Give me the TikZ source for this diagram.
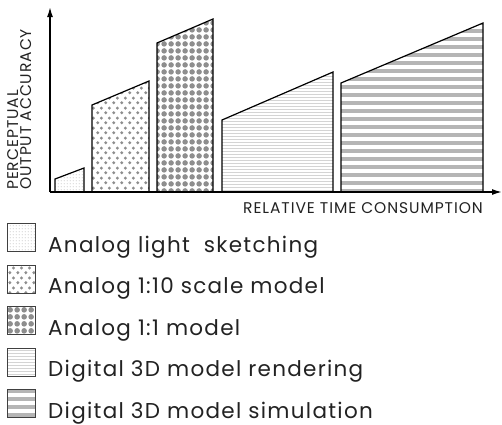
\documentclass[tikz,border=0pt]{standalone}
\usepackage{fontspec}
\setmainfont{Poppins}
\newfontfamily\widefont{Poppins}[LetterSpace=6]
\usepackage{tikz}
\usetikzlibrary{positioning}
\usetikzlibrary{patterns}
\usetikzlibrary{arrows.meta}

% fill patterns for the five methods
\pgfdeclarepatternformonly{finedots}{\pgfqpoint{0pt}{0pt}}{\pgfqpoint{3pt}{3pt}}{\pgfqpoint{3pt}{3pt}}{
    \pgfpathcircle{\pgfqpoint{1.5pt}{1.5pt}}{0.6pt}
    \pgfusepath{fill}
}
\pgfdeclarepatternformonly{smalldots}{\pgfqpoint{0pt}{0pt}}{\pgfqpoint{8pt}{10pt}}{\pgfqpoint{8pt}{10pt}}{
    \pgfpathcircle{\pgfqpoint{2pt}{2.5pt}}{1.8pt}
    \pgfpathcircle{\pgfqpoint{6pt}{7.5pt}}{1.8pt}
    \pgfusepath{fill}
}
\pgfdeclarepatternformonly{bigdots}{\pgfqpoint{0pt}{0pt}}{\pgfqpoint{7pt}{7pt}}{\pgfqpoint{7pt}{7pt}}{
    \pgfpathcircle{\pgfqpoint{3.5pt}{3.5pt}}{3.1pt}
    \pgfusepath{fill}
}
\pgfdeclarepatternformonly{thinlines}{\pgfqpoint{0pt}{0pt}}{\pgfqpoint{1pt}{3.3pt}}{\pgfqpoint{1pt}{3.3pt}}{
    \pgfpathrectangle{\pgfqpoint{0pt}{0pt}}{\pgfqpoint{1pt}{0.8pt}}
    \pgfusepath{fill}
}
\pgfdeclarepatternformonly{thickstripes}{\pgfqpoint{0pt}{0pt}}{\pgfqpoint{1pt}{8pt}}{\pgfqpoint{1pt}{8pt}}{
    \pgfpathrectangle{\pgfqpoint{0pt}{0pt}}{\pgfqpoint{1pt}{4.2pt}}
    \pgfusepath{fill}
}

\definecolor{dotgray}{HTML}{8E8E8E}
\definecolor{textgray}{HTML}{222222}

\tikzstyle{axis_line} = [line width = 1.5pt, -{Latex[length = 10pt, width = 6pt]}]
\tikzstyle{bar_shape} = [draw, line width = 1.2pt, line join = miter]
\tikzstyle{sketch_fill} = [pattern = finedots, pattern color = gray!70]
\tikzstyle{scale_fill} = [pattern = smalldots, pattern color = dotgray]
\tikzstyle{full_fill} = [pattern = bigdots, pattern color = dotgray]
\tikzstyle{render_fill} = [pattern = thinlines, pattern color = gray!80]
\tikzstyle{sim_fill} = [pattern = thickstripes, pattern color = dotgray]
\tikzstyle{legend_box} = [draw = black!75, line width = 1.4pt, minimum size = 28pt, inner sep = 0, anchor = north west]
\tikzstyle{legend_text} = [anchor = base west, inner sep = 0, text = textgray, font = \widefont\fontsize{21.5}{24}\selectfont]
\tikzstyle{axis_text} = [inner sep = 0, text = textgray, font = \widefont\fontsize{15.5}{13}\selectfont]

\begin{document}
\begin{tikzpicture}[x = 1pt, y = -1pt]
    \useasboundingbox (0, 0) rectangle (502, 424);

    % axes
    \coordinate (origin) at (50, 192);
    \coordinate (y_end) at (50, 7);
    \coordinate (x_end) at (502, 192);

    % bars, left to right
    \draw [bar_shape, sketch_fill] (55, 192) -- (55, 179) -- (84, 168) -- (84, 192) -- cycle;
    \draw [bar_shape, scale_fill] (92, 192) -- (92, 105) -- (149, 81) -- (149, 192) -- cycle;
    \draw [bar_shape, full_fill] (157, 192) -- (157, 43) -- (213, 19) -- (213, 192) -- cycle;
    \draw [bar_shape, render_fill] (222, 192) -- (222, 120) -- (333, 72) -- (333, 192) -- cycle;
    \draw [bar_shape, sim_fill] (341, 192) -- (341, 83) -- (483, 23) -- (483, 192) -- cycle;

    \draw [axis_line] (origin) -- (y_end);
    \draw [axis_line] (origin) -- (x_end);

    \node [axis_text, rotate = 90, align = left, anchor = north west] (y_label) at (7, 190)
        {PERCEPTUAL\\OUTPUT ACCURACY};
    \node [axis_text, anchor = base east] (x_label) at (483, 213) {RELATIVE TIME CONSUMPTION};

    % legend
    \node [legend_box, sketch_fill] (box_1) at (7, 223) {};
    \node [legend_box, scale_fill] (box_2) at (7, 264.5) {};
    \node [legend_box, full_fill] (box_3) at (7, 306) {};
    \node [legend_box, render_fill] (box_4) at (7, 347.5) {};
    \node [legend_box, sim_fill] (box_5) at (7, 389) {};

    \node [legend_text] (label_1) at (48, 252) {Analog light~~sketching};
    \node [legend_text] (label_2) at (48, 293.5) {Analog 1:10 scale model};
    \node [legend_text] (label_3) at (48, 335) {Analog 1:1 model};
    \node [legend_text] (label_4) at (48, 376.5) {Digital 3D model rendering};
    \node [legend_text] (label_5) at (48, 418) {Digital 3D model simulation};
\end{tikzpicture}
\end{document}
